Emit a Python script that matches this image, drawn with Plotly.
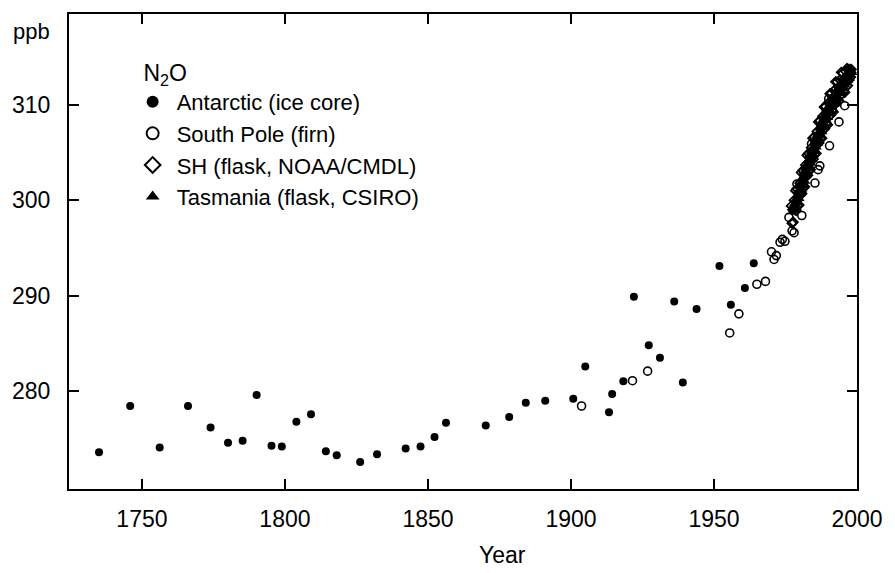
import plotly.graph_objects as go

# Antarctic ice core (filled circles)
ice_years = [1735.0, 1745.9, 1756.2, 1766.1, 1774.0, 1780.1, 1785.2, 1790.1, 1795.3, 1798.9,
             1804.0, 1809.1, 1814.3, 1818.1, 1826.3, 1832.2, 1842.2, 1847.4, 1852.3, 1856.3,
             1870.2, 1878.4, 1884.2, 1891.0, 1900.8, 1905.0, 1913.3, 1914.4, 1918.3, 1922.0,
             1927.2, 1931.1, 1936.1, 1939.1, 1943.9, 1951.9, 1955.9, 1960.8, 1963.9]
ice_vals = [273.6, 278.45, 274.1, 278.45, 276.2, 274.6, 274.8, 279.6, 274.3, 274.2,
            276.8, 277.6, 273.7, 273.3, 272.6, 273.4, 274.0, 274.2, 275.2, 276.7,
            276.4, 277.3, 278.8, 279.0, 279.2, 282.6, 277.8, 279.7, 281.05, 289.9,
            284.8, 283.5, 289.4, 280.9, 288.6, 293.1, 289.05, 290.8, 293.4]

# South Pole firn (open circles)
firn_years = [1903.7, 1921.5, 1926.8, 1955.5, 1958.7, 1965.0, 1968.0, 1970.1, 1971.0, 1971.8,
              1973.1, 1973.9, 1974.8, 1976.2, 1977.3, 1978.0, 1979.0, 1980.7, 1984.1, 1985.3,
              1986.4, 1987.0, 1990.1, 1990.4, 1993.7, 1995.7]
firn_vals = [278.45, 281.1, 282.1, 286.1, 288.1, 291.2, 291.5, 294.6, 293.8, 294.2,
             295.6, 295.9, 295.7, 298.2, 296.8, 296.6, 301.7, 298.4, 305.9, 301.8,
             303.2, 303.6, 310.6, 305.7, 308.2, 309.9]

# SH flask NOAA/CMDL (open diamonds), quarterly
noaa_years = [1977.00, 1977.25, 1977.50, 1977.75, 1978.00, 1978.25, 1978.50, 1978.75,
              1979.00, 1979.25, 1979.50, 1979.75, 1980.00, 1980.25, 1980.50, 1980.75,
              1981.00, 1981.25, 1981.50, 1981.75, 1982.00, 1982.25, 1982.50, 1982.75,
              1983.00, 1983.25, 1983.50, 1983.75, 1984.00, 1984.25, 1984.50, 1984.75,
              1985.00, 1985.25, 1985.50, 1985.75, 1986.00, 1986.25, 1986.50, 1986.75,
              1987.00, 1987.25, 1987.50, 1987.75, 1988.00, 1988.25, 1988.50, 1988.75,
              1989.00, 1989.25, 1989.50, 1989.75, 1990.00, 1990.25, 1990.50, 1990.75,
              1991.00, 1991.25, 1991.50, 1991.75, 1992.00, 1992.25, 1992.50, 1992.75,
              1993.00, 1993.25, 1993.50, 1993.75, 1994.00, 1994.25, 1994.50, 1994.75,
              1995.00, 1995.25, 1995.50, 1995.75, 1996.00, 1996.25, 1996.50, 1996.75,
              1997.00, 1997.25, 1997.50, 1997.75, 1998.00]
noaa_vals = [299.4, 297.6, 299.0, 297.7, 300.0, 299.0, 301.0, 298.9,
             301.2, 299.4, 300.8, 299.5, 301.8, 300.8, 302.9, 300.7,
             303.1, 301.3, 302.7, 301.4, 303.7, 302.7, 304.7, 302.6,
             304.9, 303.1, 304.5, 303.2, 305.5, 304.5, 306.5, 304.3,
             306.6, 304.8, 306.2, 304.9, 307.2, 306.2, 308.2, 306.0,
             308.3, 306.5, 307.9, 306.5, 308.8, 307.8, 309.75, 307.5,
             309.8, 308.0, 309.35, 307.9, 310.2, 309.2, 311.15, 308.9,
             311.2, 309.35, 310.7, 309.25, 311.5, 310.45, 312.4, 310.15,
             312.4, 310.55, 311.85, 310.4, 312.6, 311.5, 313.4, 311.1,
             313.3, 311.4, 312.75, 311.3, 313.5, 312.4, 313.8, 312.0,
             313.7, 312.6, 313.7, 312.9, 313.7]

# Tasmania flask CSIRO (filled triangles), quarterly
tas_years = [1978.00, 1978.25, 1978.50, 1978.75, 1979.00, 1979.25, 1979.50, 1979.75,
             1980.00, 1980.25, 1980.50, 1980.75, 1981.00, 1981.25, 1981.50, 1981.75,
             1982.00, 1982.25, 1982.50, 1982.75, 1983.00, 1983.25, 1983.50, 1983.75,
             1984.00, 1984.25, 1984.50, 1984.75, 1985.00, 1985.25, 1985.50, 1985.75,
             1986.00, 1986.25, 1986.50, 1986.75, 1987.00, 1987.25, 1987.50, 1987.75,
             1988.00, 1988.25, 1988.50, 1988.75, 1989.00, 1989.25, 1989.50, 1989.75,
             1990.00, 1990.25, 1990.50, 1990.75, 1991.00, 1991.25, 1991.50, 1991.75,
             1992.00, 1992.25, 1992.50, 1992.75, 1993.00, 1993.25, 1993.50, 1993.75,
             1994.00, 1994.25, 1994.50, 1994.75, 1995.00, 1995.25, 1995.50, 1995.75,
             1996.00, 1996.25, 1996.50, 1996.75, 1997.00, 1997.25, 1997.50, 1997.75,
             1998.00]
tas_vals = [299.0, 299.6, 299.3, 300.1, 299.8, 300.5, 300.2, 300.9,
            300.7, 301.5, 301.2, 301.9, 301.6, 302.4, 302.0, 302.8,
            302.6, 303.3, 302.9, 303.8, 303.4, 304.2, 303.9, 304.6,
            304.3, 305.1, 304.8, 305.5, 305.2, 306.0, 305.6, 306.3,
            306.0, 306.8, 306.5, 307.1, 306.8, 307.6, 307.2, 307.9,
            307.6, 308.4, 308.0, 308.7, 308.4, 309.1, 308.7, 309.4,
            309.1, 309.8, 309.4, 310.1, 309.8, 310.5, 310.1, 310.8,
            310.4, 311.0, 310.7, 311.3, 310.9, 311.5, 311.2, 311.8,
            311.4, 312.0, 311.7, 312.2, 311.9, 312.4, 312.1, 312.7,
            312.3, 312.9, 312.6, 313.1, 312.8, 313.4, 313.1, 313.6,
            313.4]

x_ticks = [1750, 1800, 1850, 1900, 1950, 2000]
y_ticks = [280, 290, 300, 310]

FONT = "Liberation Sans, Arial, Helvetica, sans-serif"

fig = go.Figure()
fig.add_trace(go.Scatter(x=ice_years, y=ice_vals, mode="markers", name="Antarctic (ice core)",
                         marker=dict(symbol="circle", size=8, color="black")))
fig.add_trace(go.Scatter(x=firn_years, y=firn_vals, mode="markers", name="South Pole (firn)",
                         marker=dict(symbol="circle-open", size=8, color="black", line=dict(width=1.6))))
fig.add_trace(go.Scatter(x=noaa_years, y=noaa_vals, mode="markers", name="SH (flask, NOAA/CMDL)",
                         marker=dict(symbol="diamond-open", size=7, color="black", line=dict(width=1.8))))
fig.add_trace(go.Scatter(x=tas_years, y=tas_vals, mode="markers", name="Tasmania (flask, CSIRO)",
                         marker=dict(symbol="triangle-up", size=11, color="black")))

axis_common = dict(showline=True, linewidth=2, linecolor="black", mirror="ticks",
                   ticks="inside", ticklen=10, tickwidth=1.5, tickcolor="black",
                   showgrid=False, zeroline=False, tickfont=dict(size=23, color="black", family=FONT))

fig.update_xaxes(range=[1724.5, 2000], tickvals=x_ticks, ticklabelstandoff=8, **axis_common)
fig.update_yaxes(range=[269.76, 319.5], tickvals=y_ticks, ticklabelstandoff=12, **axis_common)

fig.update_layout(
    width=895, height=573,
    margin=dict(l=62, r=27, t=13, b=84),
    plot_bgcolor="white", paper_bgcolor="white",
    font=dict(family=FONT, color="black", size=22),
    showlegend=True,
    legend=dict(x=0.0757, y=0.922, xanchor="left", yanchor="top",
                bgcolor="rgba(0,0,0,0)", itemwidth=38, itemsizing="constant",
                font=dict(size=22, family=FONT, color="black"),
                title=dict(text="&nbsp;&nbsp;N<sub>2</sub>O", font=dict(size=23, family=FONT, color="black"))),
    annotations=[
        dict(text="Year", x=1876, xref="x", y=-0.1387, yref="paper", showarrow=False,
             xanchor="center", yanchor="middle", font=dict(size=23, family=FONT, color="black")),
        dict(text="ppb", x=0, xref="paper", xanchor="right", xshift=-17, y=0.964, yref="paper",
             yanchor="middle", showarrow=False, font=dict(size=22, family=FONT, color="black")),
    ],
)

fig.write_html("out.html")
